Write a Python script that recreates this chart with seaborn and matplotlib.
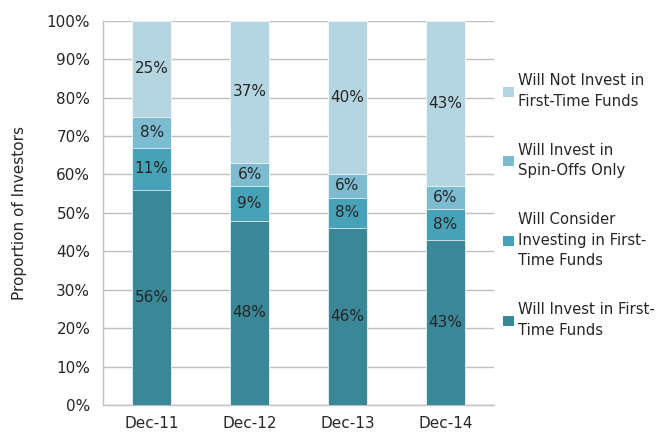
import pandas as pd
import numpy as np
import matplotlib.pyplot as plt
import seaborn as sns

sns.set_style('white')
plt.rcParams['font.family'] = ['DejaVu Sans']

# data
periods = ['Dec-11', 'Dec-12', 'Dec-13', 'Dec-14']
invest_first = [56, 48, 46, 43]
consider_first = [11, 9, 8, 8]
spin_offs = [8, 6, 6, 6]
not_invest = [25, 37, 40, 43]

series_names = ['Will Invest in First-\nTime Funds',
                'Will Consider\nInvesting in First-\nTime Funds',
                'Will Invest in\nSpin-Offs Only',
                'Will Not Invest in\nFirst-Time Funds']
series_vals = [invest_first, consider_first, spin_offs, not_invest]
colors = ['#3a8798', '#47a2b7', '#7dbcd0', '#b5d6e1']
text_col = '#262626'
grid_col = '#bfbfbf'

df = pd.DataFrame({'period': periods})
for name, vals in zip(series_names, series_vals):
    df[name] = vals

# cumulative tops for stacking (draw tallest first)
cum = df[series_names].cumsum(axis=1)

fig = plt.figure(figsize=(6.59, 4.34), dpi=100)
ax = fig.add_axes([0.156, 0.067, 0.594, 0.885])

for i in range(len(series_names) - 1, -1, -1):
    sns.barplot(x=df['period'], y=cum[series_names[i]], color=colors[i],
                width=0.4, ax=ax, label=series_names[i], saturation=1,
                edgecolor='white', linewidth=0.5, zorder=3)

# segment labels
for j in range(len(periods)):
    bottom = 0
    for i, name in enumerate(series_names):
        v = df[name][j]
        ax.text(j, bottom + v / 2, f'{v}%', ha='center', va='center',
                fontsize=11, color=text_col, zorder=5)
        bottom += v

ax.set_ylim(0, 100)
ax.set_xlim(-0.5, 3.5)
ax.set_yticks(np.arange(0, 101, 10))
ax.set_yticklabels([f'{t}%' for t in range(0, 101, 10)])
ax.yaxis.grid(True, color=grid_col, linewidth=1, zorder=0)
ax.set_axisbelow(True)
ax.set_xlabel('')
ax.set_ylabel('Proportion of Investors', fontsize=11, color=text_col, labelpad=14)

for s in ['top', 'right']:
    ax.spines[s].set_visible(False)
for s in ['left', 'bottom']:
    ax.spines[s].set_color(grid_col)
    ax.spines[s].set_linewidth(1)

ax.tick_params(axis='y', length=6, color=grid_col, labelsize=11, labelcolor=text_col, pad=3)
ax.tick_params(axis='x', which='major', length=0, labelsize=11, labelcolor=text_col, pad=8)
ax.set_xticks(np.arange(-0.5, 3.6, 1), minor=True)
ax.tick_params(axis='x', which='minor', length=5, color=grid_col)

handles, labels = ax.get_legend_handles_labels()
if ax.get_legend() is not None:
    ax.get_legend().remove()
leg = fig.legend(handles, labels, loc='upper left', bbox_to_anchor=(0.755, 0.845),
                 frameon=False, fontsize=10.7, labelcolor=text_col,
                 handlelength=0.7, handleheight=0.7, handletextpad=0.3,
                 labelspacing=2.3, alignment='left', borderaxespad=0)
for t in leg.get_texts():
    t.set_linespacing(1.45)
for h in leg.legend_handles:
    h.set_edgecolor('none')

fig.savefig('out.png', dpi=100)
